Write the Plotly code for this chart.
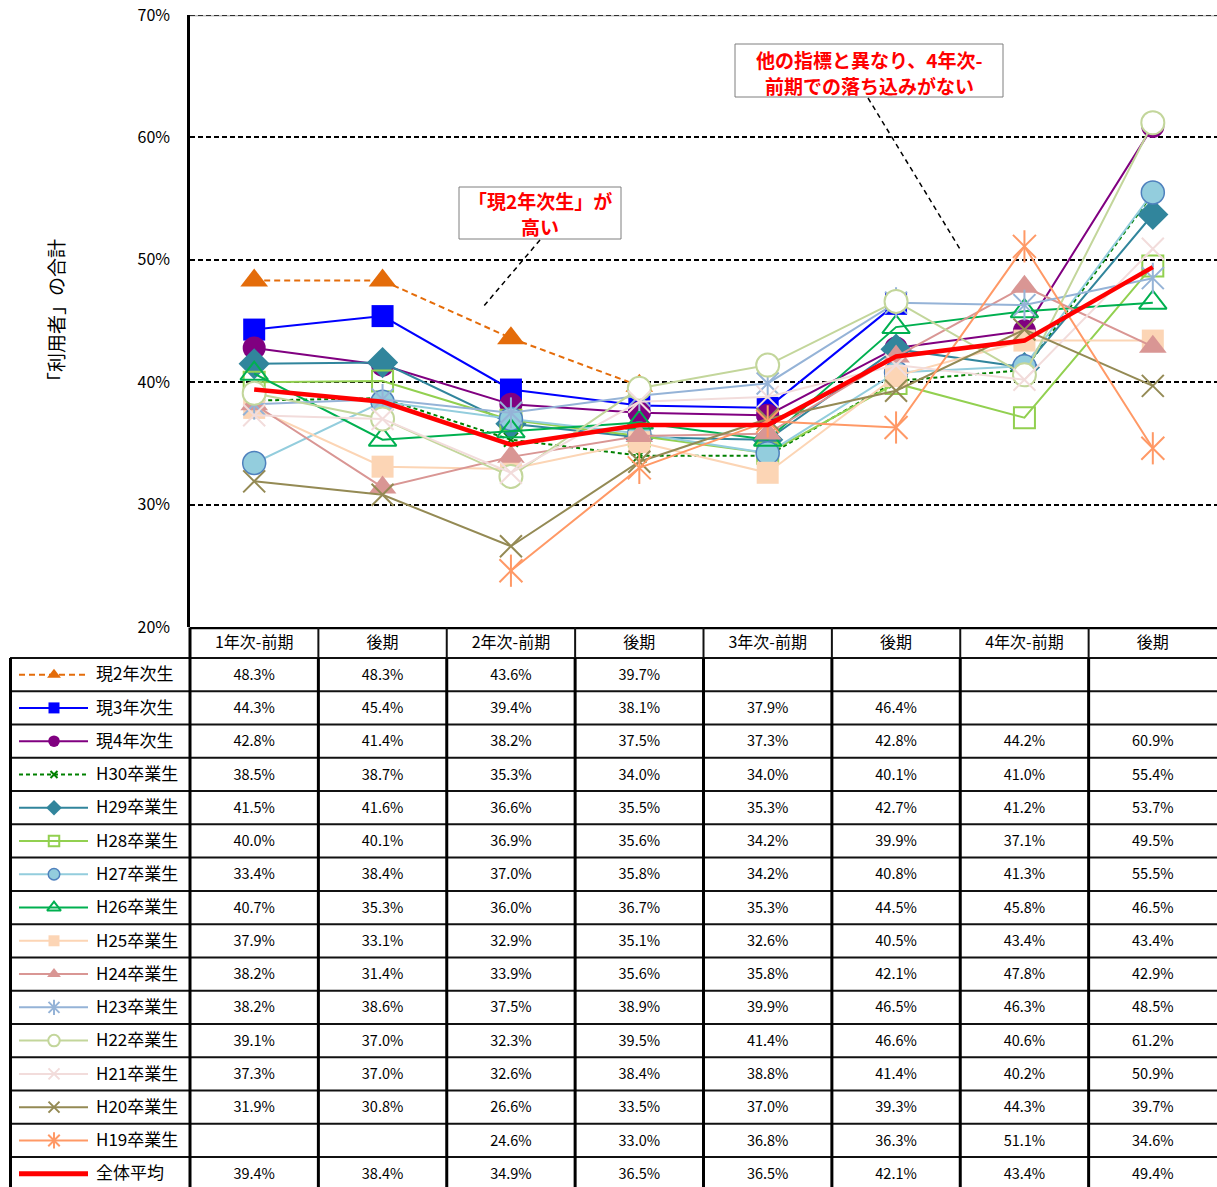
import plotly.graph_objects as go

# ---------------- data ----------------
categories = ["1年次-前期", "後期", "2年次-前期", "後期", "3年次-前期", "後期", "4年次-前期", "後期"]
series_names = ["現2年次生", "現3年次生", "現4年次生", "H30卒業生", "H29卒業生", "H28卒業生",
                "H27卒業生", "H26卒業生", "H25卒業生", "H24卒業生", "H23卒業生", "H22卒業生",
                "H21卒業生", "H20卒業生", "H19卒業生", "全体平均"]

gen2 = [48.3, 48.3, 43.6, 39.7, None, None, None, None]
gen3 = [44.3, 45.4, 39.4, 38.1, 37.9, 46.4, None, None]
gen4 = [42.8, 41.4, 38.2, 37.5, 37.3, 42.8, 44.2, 60.9]
h30 = [38.5, 38.7, 35.3, 34.0, 34.0, 40.1, 41.0, 55.4]
h29 = [41.5, 41.6, 36.6, 35.5, 35.3, 42.7, 41.2, 53.7]
h28 = [40.0, 40.1, 36.9, 35.6, 34.2, 39.9, 37.1, 49.5]
h27 = [33.4, 38.4, 37.0, 35.8, 34.2, 40.8, 41.3, 55.5]
h26 = [40.7, 35.3, 36.0, 36.7, 35.3, 44.5, 45.8, 46.5]
h25 = [37.9, 33.1, 32.9, 35.1, 32.6, 40.5, 43.4, 43.4]
h24 = [38.2, 31.4, 33.9, 35.6, 35.8, 42.1, 47.8, 42.9]
h23 = [38.2, 38.6, 37.5, 38.9, 39.9, 46.5, 46.3, 48.5]
h22 = [39.1, 37.0, 32.3, 39.5, 41.4, 46.6, 40.6, 61.2]
h21 = [37.3, 37.0, 32.6, 38.4, 38.8, 41.4, 40.2, 50.9]
h20 = [31.9, 30.8, 26.6, 33.5, 37.0, 39.3, 44.3, 39.7]
h19 = [None, None, 24.6, 33.0, 36.8, 36.3, 51.1, 34.6]
avg = [39.4, 38.4, 34.9, 36.5, 36.5, 42.1, 43.4, 49.4]

series_values = [gen2, gen3, gen4, h30, h29, h28, h27, h26, h25, h24, h23, h22, h21, h20, h19, avg]

y_ticks = [20, 30, 40, 50, 60, 70]
y_tick_labels = ["20%", "30%", "40%", "50%", "60%", "70%"]
y_title = "「利用者」の合計"
note1_lines = ["「現2年次生」が", "高い"]
note2_lines = ["他の指標と異なり、4年次-", "前期での落ち込みがない"]

# ---------------- styles ----------------
# (line color, dash, symbols, marker size, marker fill, marker line color, marker line width, line width)
styles = [
    ("#E46C0A", "6px,4px", ["triangle-up"], 24, "#E46C0A", "#E46C0A", 0, 2),
    ("#0000FF", "solid", ["square"], 22, "#0000FF", "#0000FF", 0, 2),
    ("#800080", "solid", ["circle"], 23, "#800080", "#800080", 0, 2),
    ("#008000", "4px,3px", ["x-thin-open"], 14, "#008000", "#008000", 2, 2),
    ("#31859C", "solid", ["diamond"], 24, "#31859C", "#31859C", 0, 2),
    ("#92D050", "solid", ["square-open"], 21, "#92D050", "#92D050", 2, 2),
    ("#93CDDD", "solid", ["circle"], 23, "#93CDDD", "#4F81BD", 1.5, 2),
    ("#00B050", "solid", ["triangle-up-open"], 24, "#00B050", "#00B050", 2, 2),
    ("#FCD5B5", "solid", ["square"], 22, "#FCD5B5", "#FCD5B5", 0, 2),
    ("#D99694", "solid", ["triangle-up"], 24, "#D99694", "#D99694", 0, 2),
    ("#95B3D7", "solid", ["x-thin-open", "line-ns-open"], 22, "#95B3D7", "#95B3D7", 2, 2),
    ("#C3D69B", "solid", ["circle"], 23, "#FFFFFF", "#C3D69B", 2, 2),
    ("#F2DCDB", "solid", ["x-thin-open"], 22, "#F2DCDB", "#F2DCDB", 2, 2),
    ("#948A54", "solid", ["x-thin-open"], 22, "#948A54", "#948A54", 2, 2),
    ("#FF9966", "solid", ["x-thin-open", "line-ns-open"], 23, "#FF9966", "#FF9966", 2, 2),
    ("#FF0000", "solid", [], 0, "#FF0000", "#FF0000", 0, 4.5),
]

FONT = "Noto Sans CJK JP"
W, H = 1217, 1187
PLOT_L, PLOT_T, PLOT_B = 190, 15, 627
CAT_W = (W - PLOT_L) / len(categories)
HEADER_TOP, DATA_TOP, ROW_H = 627.5, 658, 33.27


def px2x(p):
    return (p - PLOT_L) / CAT_W - 0.5


def px2r(p):
    return (p - DATA_TOP) / ROW_H


def pp(px, py):
    return px / W, 1 - py / H


fig = go.Figure()
xs = list(range(len(categories)))


def mk(style, size_scale=1.0, sym=None):
    color, dash, syms, size, fill, mline, mlw, lw = style
    is_open = sym is not None and sym.endswith("-open")
    return dict(symbol=sym, size=size * size_scale,
                color=(mline if is_open else fill),
                line=dict(color=mline, width=(mlw if mlw else 0)))


# chart traces
for name, vals, st in zip(series_names, series_values, styles):
    color, dash, syms, size, fill, mline, mlw, lw = st
    fig.add_trace(go.Scatter(
        x=xs, y=vals, mode="lines+markers" if syms else "lines",
        line=dict(color=color, width=lw, dash=dash),
        marker=mk(st, 1.0, syms[0]) if syms else None,
        connectgaps=False, showlegend=False, name=name, xaxis="x", yaxis="y"))
    for s in syms[1:]:
        fig.add_trace(go.Scatter(
            x=xs, y=vals, mode="markers", marker=mk(st, 1.0, s),
            showlegend=False, hoverinfo="skip", xaxis="x", yaxis="y"))

# ---------------- table ----------------
TXT_DY = 1.5 / ROW_H
cell_x, cell_y, cell_t = [], [], []
for r, vals in enumerate(series_values):
    for c, v in enumerate(vals):
        if v is not None:
            cell_x.append(c)
            cell_y.append(r + 0.5 + TXT_DY)
            cell_t.append(f"{v:.1f}%")
fig.add_trace(go.Scatter(x=cell_x, y=cell_y, text=cell_t, mode="text",
                         textfont=dict(family=FONT, size=14.5, color="#000"),
                         showlegend=False, hoverinfo="skip", xaxis="x2", yaxis="y2"))
fig.add_trace(go.Scatter(x=xs, y=[px2r((HEADER_TOP + DATA_TOP) / 2 + 1.5)] * len(xs),
                         text=categories, mode="text",
                         textfont=dict(family=FONT, size=16, color="#000"),
                         showlegend=False, hoverinfo="skip", xaxis="x2", yaxis="y2"))
fig.add_trace(go.Scatter(x=[px2x(96)] * len(series_names),
                         y=[r + 0.5 + TXT_DY for r in range(len(series_names))],
                         text=series_names, mode="text", textposition="middle right",
                         textfont=dict(family=FONT, size=17, color="#000"),
                         showlegend=False, hoverinfo="skip", xaxis="x2", yaxis="y2"))
for r, st in enumerate(styles):
    color, dash, syms, size, fill, mline, mlw, lw = st
    key_lw = lw if lw < 4 else 5
    fig.add_trace(go.Scatter(x=[px2x(19), px2x(88)], y=[r + 0.5, r + 0.5], mode="lines",
                             line=dict(color=color, width=key_lw, dash=dash),
                             showlegend=False, hoverinfo="skip", xaxis="x2", yaxis="y2"))
    for s in syms:
        fig.add_trace(go.Scatter(x=[px2x(54)], y=[r + 0.5], mode="markers",
                                 marker=mk(st, 0.5, s),
                                 showlegend=False, hoverinfo="skip", xaxis="x2", yaxis="y2"))

shapes = []
nrows = len(series_names)
bottom_r = px2r(H) + 0.5
shapes.append(dict(type="line", xref="x2", yref="y2", x0=px2x(PLOT_L), x1=px2x(W),
                   y0=px2r(HEADER_TOP), y1=px2r(HEADER_TOP), line=dict(color="#000", width=3.5)))
for r in range(nrows + 1):
    shapes.append(dict(type="line", xref="x2", yref="y2", x0=px2x(10), x1=px2x(W),
                       y0=r, y1=r, line=dict(color="#111", width=2)))
shapes.append(dict(type="line", xref="x2", yref="y2", x0=px2x(10.5), x1=px2x(10.5),
                   y0=0, y1=bottom_r, line=dict(color="#000", width=3)))
shapes.append(dict(type="line", xref="x2", yref="y2", x0=-0.5, x1=-0.5,
                   y0=px2r(HEADER_TOP), y1=bottom_r, line=dict(color="#000", width=3)))
for c in range(len(categories) - 1):
    shapes.append(dict(type="line", xref="x2", yref="y2", x0=c + 0.5, x1=c + 0.5,
                       y0=px2r(HEADER_TOP), y1=0, line=dict(color="#111", width=2)))
    shapes.append(dict(type="line", xref="x2", yref="y2", x0=c + 0.5, x1=c + 0.5,
                       y0=0, y1=bottom_r, line=dict(color="#000", width=3)))

# top border of plot area: gray line with the dashed 70% gridline over it
shapes.append(dict(type="line", xref="x", yref="y", x0=-0.5, x1=len(categories) - 0.5,
                   y0=y_ticks[-1], y1=y_ticks[-1], line=dict(color="#BFBFBF", width=3),
                   layer="below"))
shapes.append(dict(type="line", xref="x", yref="y", x0=-0.5, x1=len(categories) - 0.5,
                   y0=y_ticks[-1], y1=y_ticks[-1], line=dict(color="#000", width=1.5,
                                                               dash="5px,3px"), layer="below"))

annotations = []
tx, ty = pp(55, 315)
annotations.append(dict(x=tx, y=ty, xref="paper", yref="paper", text=y_title, showarrow=False,
                        textangle=-90, xanchor="center", yanchor="middle",
                        font=dict(family=FONT, size=19, color="#000")))

callouts = [
    (note1_lines, (459, 187, 621, 239), (200, 226), ((540, 240), (483, 307))),
    (note2_lines, (735, 44, 1003, 97), (59, 85), ((868, 98), (960, 249))),
]
for lines, (bl, bt, br, bb), ys, ((a, b), (c, d)) in callouts:
    x0b, y0b = pp(bl, bb)
    x1b, y1b = pp(br, bt)
    shapes.append(dict(type="rect", xref="paper", yref="paper", x0=x0b, y0=y0b, x1=x1b, y1=y1b,
                       fillcolor="#FFFFFF", line=dict(color="#7F7F7F", width=1)))
    ax, ay = pp(a, b)
    cx, cy = pp(c, d)
    shapes.append(dict(type="line", xref="paper", yref="paper", x0=ax, y0=ay, x1=cx, y1=cy,
                       line=dict(color="#000", width=1.5, dash="5px,4px")))
    for txt, ly in zip(lines, ys):
        lx, lyp = pp((bl + br) / 2, ly)
        annotations.append(dict(x=lx, y=lyp, xref="paper", yref="paper", text=txt,
                                showarrow=False, xanchor="center", yanchor="middle",
                                font=dict(family=FONT, size=19, color="#FF0000", weight="bold")))

fig.update_layout(
    width=W, height=H, margin=dict(l=0, r=0, t=0, b=0, pad=0, autoexpand=False),
    paper_bgcolor="#FFFFFF", plot_bgcolor="rgba(0,0,0,0)",
    xaxis=dict(domain=[PLOT_L / W, 1], range=[-0.5, len(categories) - 0.5], automargin=False,
               showticklabels=False, showgrid=False, zeroline=False, ticks="", anchor="y"),
    yaxis=dict(domain=[1 - PLOT_B / H, 1 - PLOT_T / H], range=[y_ticks[0], y_ticks[-1]],
               tickvals=y_ticks, ticktext=y_tick_labels, showgrid=True, gridcolor="#000000",
               griddash="5px,3px", gridwidth=1.5, zeroline=False, showline=True, automargin=False,
               linecolor="#000", linewidth=2.5, ticks="", ticklabelstandoff=14,
               tickfont=dict(family=FONT, size=16, color="#000"), anchor="x"),
    xaxis2=dict(domain=[0, 1], range=[px2x(0), px2x(W)], visible=False, anchor="y2",
                automargin=False),
    yaxis2=dict(domain=[0, 1 - PLOT_B / H], range=[px2r(H), px2r(PLOT_B)], visible=False,
                anchor="x2", automargin=False),
    shapes=shapes, annotations=annotations,
)

fig.write_html("out.html", config={"displayModeBar": False},
               post_script="document.body.style.margin='0';document.body.style.overflow='hidden';")
